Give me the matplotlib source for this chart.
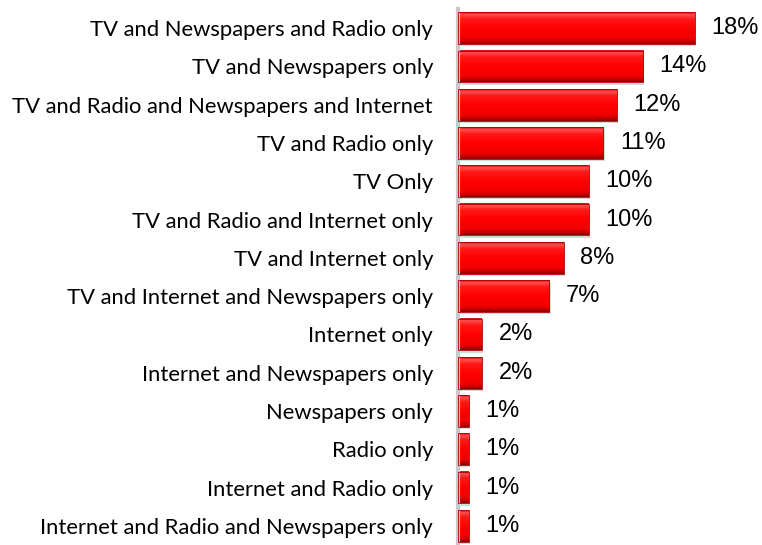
import matplotlib
matplotlib.use("Agg")
import matplotlib.pyplot as plt
import numpy as np
from matplotlib.colors import LinearSegmentedColormap

categories = [
    "TV and Newspapers and Radio only",
    "TV and Newspapers only",
    "TV and Radio and Newspapers and Internet",
    "TV and Radio only",
    "TV Only",
    "TV and Radio and Internet only",
    "TV and Internet only",
    "TV and Internet and Newspapers only",
    "Internet only",
    "Internet and Newspapers only",
    "Newspapers only",
    "Radio only",
    "Internet and Radio only",
    "Internet and Radio and Newspapers only",
]
values = [17.9, 14.0, 12.0, 11.0, 9.9, 9.9, 8.0, 6.9, 1.8, 1.8, 0.8, 0.8, 0.8, 0.8]
value_labels = ["18%", "14%", "12%", "11%", "10%", "10%", "8%", "7%",
                "2%", "2%", "1%", "1%", "1%", "1%"]

W, H = 762, 545
fig = plt.figure(figsize=(W / 100, H / 100), dpi=100)
ax = fig.add_axes([458 / W, 0.0, 1 - 458 / W, (H - 9) / H])

# glossy red gradient (top -> bottom)
grad = LinearSegmentedColormap.from_list(
    "gloss",
    [(0.0, "#d01010"), (0.08, "#ff5050"), (0.2, "#ff1a1a"), (0.5, "#ff0000"),
     (0.82, "#f00000"), (0.93, "#c00000"), (1.0, "#8a0000")])
g = np.linspace(0, 1, 64).reshape(-1, 1)

bar_h = 0.83
y = np.arange(len(categories))
for yi, v in zip(y, values):
    # soft shadow
    ax.add_patch(plt.Rectangle((0, yi - bar_h / 2 + 0.06), v + 0.1, bar_h,
                               color="#d8d8d8", zorder=1, lw=0))
    ax.imshow(g, cmap=grad, aspect="auto", zorder=2,
              extent=(0, v, yi + bar_h / 2, yi - bar_h / 2))
    ax.add_patch(plt.Rectangle((0, yi - bar_h / 2), v, bar_h, fill=False,
                               edgecolor="#b00000", lw=0.6, zorder=3))

for yi, v, lab in zip(y, values, value_labels):
    ax.annotate(lab, (v, yi), xytext=(12, 0), textcoords="offset points",
                va="center", ha="left", fontsize=17,
                fontfamily=["Liberation Sans", "DejaVu Sans"], color="#000000")

ax.set_xlim(0, 23)
ax.set_ylim(len(categories) - 0.5, -0.5)
ax.set_yticks(y)
ax.set_yticklabels(categories, fontfamily=["Lato", "DejaVu Sans"],
                   fontsize=15.8, color="#000000")
ax.tick_params(axis="y", length=0, pad=18)
ax.set_xticks([])
for s in ["top", "right", "bottom"]:
    ax.spines[s].set_visible(False)
ax.spines["left"].set_color("#c8c8c8")
ax.spines["left"].set_linewidth(3)
ax.set_facecolor("none")

fig.savefig("out.png", dpi=100)
